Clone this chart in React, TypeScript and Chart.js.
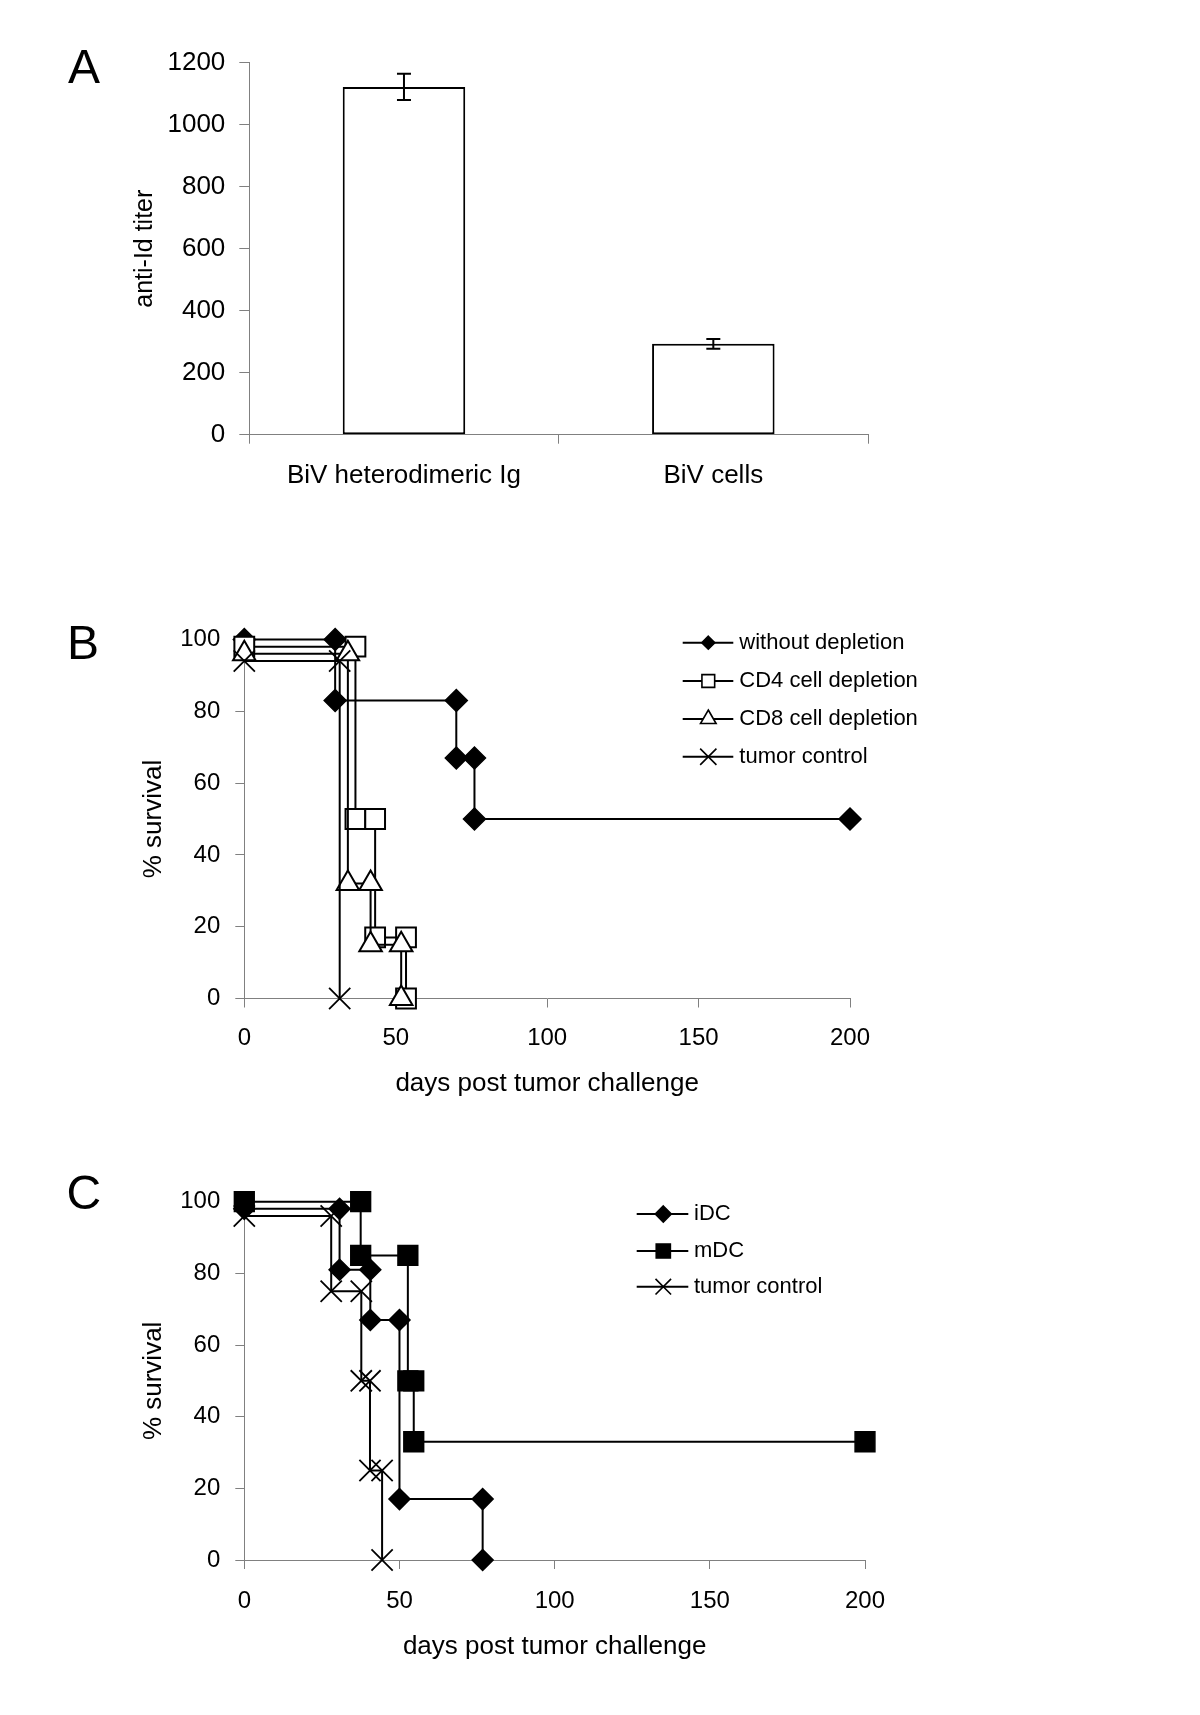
import React, { useEffect, useRef } from 'react';
import { Chart, registerables } from 'chart.js';

Chart.register(...registerables);

const FONT = '"Liberation Sans", Arial, Helvetica, sans-serif';
const AXIS_GRAY = '#808080';
const CANVAS_W = 1200;

// ---------- Panel A data ----------
const barCategories = ['BiV heterodimeric Ig', 'BiV cells'];
const barValues = [1122, 293];
const barErrors = [42, 16];

// ---------- Panel B data ----------
const bLabels = ['without depletion', 'CD4 cell depletion', 'CD8 cell depletion', 'tumor control'];
const bWithoutDays = [0, 30, 30, 70, 70, 76, 76, 200];
const bWithoutSurv = [100, 100, 83, 83, 67, 67, 50, 50];
const bCD4Days = [0, 36.7, 36.7, 43.2, 43.2, 53.4, 53.4];
const bCD4Surv = [98, 98, 50, 50, 17, 17, 0];
const bCD8Days = [0, 34.2, 34.2, 41.7, 41.7, 51.8, 51.8];
const bCD8Surv = [96, 96, 32, 32, 15, 15, 0];
const bTumorDays = [0, 31.5, 31.5];
const bTumorSurv = [94, 94, 0];

// ---------- Panel C data ----------
const cLabels = ['iDC', 'mDC', 'tumor control'];
const cIDCDays = [0, 30.7, 30.7, 40.6, 40.6, 50, 50, 76.8, 76.8];
const cIDCSurv = [98, 98, 81, 81, 67, 67, 17, 17, 0];
const cMDCDays = [0, 37.5, 37.5, 52.7, 52.7, 54.6, 54.6, 200];
const cMDCSurv = [100, 100, 85, 85, 50, 50, 33, 33];
const cTumorDays = [0, 28, 28, 37.7, 37.7, 40.5, 40.5, 44.4, 44.4];
const cTumorSurv = [96, 96, 75, 75, 50, 50, 25, 25, 0];

const zip = (xs: number[], ys: number[]) => xs.map((x, i) => ({ x, y: ys[i] }));

function drawMarker(ctx: CanvasRenderingContext2D, style: string, x: number, y: number, r: number, fill: string, lw: number) {
  ctx.save();
  ctx.lineWidth = lw;
  ctx.strokeStyle = '#000';
  ctx.fillStyle = fill;
  ctx.beginPath();
  if (style === 'rectRot') {
    ctx.moveTo(x, y - r);
    ctx.lineTo(x + r, y);
    ctx.lineTo(x, y + r);
    ctx.lineTo(x - r, y);
    ctx.closePath();
    ctx.fill();
    ctx.stroke();
  } else if (style === 'rect') {
    const s = r * Math.SQRT1_2;
    ctx.rect(x - s, y - s, 2 * s, 2 * s);
    ctx.fill();
    ctx.stroke();
  } else if (style === 'triangle') {
    let a = 0;
    ctx.moveTo(x + Math.sin(a) * r, y - Math.cos(a) * r);
    a += (2 * Math.PI) / 3;
    ctx.lineTo(x + Math.sin(a) * r, y - Math.cos(a) * r);
    a += (2 * Math.PI) / 3;
    ctx.lineTo(x + Math.sin(a) * r, y - Math.cos(a) * r);
    ctx.closePath();
    ctx.fill();
    ctx.stroke();
  } else if (style === 'crossRot') {
    const s = r * Math.SQRT1_2;
    ctx.moveTo(x - s, y - s);
    ctx.lineTo(x + s, y + s);
    ctx.moveTo(x - s, y + s);
    ctx.lineTo(x + s, y - s);
    ctx.stroke();
  }
  ctx.restore();
}

const lineLegendPlugin = {
  id: 'lineLegend',
  afterDraw(chart: any, _args: any, opts: any) {
    if (!opts || !opts.rows) return;
    const ctx = chart.ctx as CanvasRenderingContext2D;
    chart.data.datasets.forEach((ds: any, i: number) => {
      const y = opts.rows[i];
      ctx.save();
      ctx.strokeStyle = '#000';
      ctx.lineWidth = 2;
      ctx.beginPath();
      ctx.moveTo(opts.x0, y);
      ctx.lineTo(opts.x1, y);
      ctx.stroke();
      drawMarker(ctx, ds.pointStyle, opts.mx, y, opts.radii[i], ds.pointBackgroundColor, 1.6);
      ctx.fillStyle = '#000';
      ctx.font = `${opts.size}px ${FONT}`;
      ctx.textBaseline = 'middle';
      ctx.textAlign = 'left';
      ctx.fillText(ds.label, opts.tx, y);
      ctx.restore();
    });
  },
};

const panelLetterPlugin = {
  id: 'panelLetter',
  afterDraw(chart: any, _args: any, opts: any) {
    if (!opts || !opts.text) return;
    const ctx = chart.ctx as CanvasRenderingContext2D;
    ctx.save();
    ctx.fillStyle = '#000';
    ctx.font = `${opts.size}px ${FONT}`;
    ctx.textBaseline = 'alphabetic';
    ctx.textAlign = 'left';
    ctx.fillText(opts.text, opts.x, opts.y);
    ctx.restore();
  },
};

const errorBarPlugin = {
  id: 'errorBars',
  afterDatasetsDraw(chart: any, _args: any, opts: any) {
    if (!opts || !opts.errors) return;
    const ctx = chart.ctx as CanvasRenderingContext2D;
    const meta = chart.getDatasetMeta(0);
    const yScale = chart.scales.y;
    const values = chart.data.datasets[0].data as number[];
    meta.data.forEach((el: any, i: number) => {
      const v = values[i];
      const e = opts.errors[i];
      const yt = yScale.getPixelForValue(v + e);
      const yb = yScale.getPixelForValue(v - e);
      ctx.save();
      ctx.strokeStyle = '#000';
      ctx.lineWidth = 2;
      ctx.beginPath();
      ctx.moveTo(el.x, yt);
      ctx.lineTo(el.x, yb);
      ctx.moveTo(el.x - opts.cap, yt);
      ctx.lineTo(el.x + opts.cap, yt);
      ctx.moveTo(el.x - opts.cap, yb);
      ctx.lineTo(el.x + opts.cap, yb);
      ctx.stroke();
      ctx.restore();
    });
  },
};

function survivalConfig(p: {
  datasets: any[];
  leftWidth: number;
  rightPad: number;
  topPad: number;
  xAxisHeight: number;
  xTickPad: number;
  xTitlePad: number;
  yTitlePad: number;
  legend: any;
  letter: any;
}) {
  return {
    type: 'scatter',
    data: { datasets: p.datasets },
    plugins: [lineLegendPlugin, panelLetterPlugin],
    options: {
      responsive: false,
      maintainAspectRatio: false,
      devicePixelRatio: 1,
      animation: false,
      events: [],
      layout: { padding: { left: 0, right: p.rightPad, top: p.topPad, bottom: 0 } },
      plugins: {
        legend: { display: false },
        tooltip: { enabled: false },
        lineLegend: p.legend,
        panelLetter: p.letter,
      },
      scales: {
        x: {
          type: 'linear',
          min: 0,
          max: 200,
          afterFit: (s: any) => {
            s.height = p.xAxisHeight;
          },
          ticks: {
            stepSize: 50,
            color: '#000',
            font: { family: FONT, size: 24 },
            padding: p.xTickPad,
            maxRotation: 0,
            callback: (v: any) => String(v),
          },
          grid: { drawOnChartArea: false, drawTicks: true, tickLength: 9, color: AXIS_GRAY, lineWidth: 1 },
          border: { display: true, color: AXIS_GRAY, width: 1 },
          title: {
            display: true,
            text: 'days post tumor challenge',
            color: '#000',
            font: { family: FONT, size: 26 },
            padding: { top: 0, bottom: p.xTitlePad },
          },
        },
        y: {
          type: 'linear',
          min: 0,
          max: 100,
          afterFit: (s: any) => {
            s.width = p.leftWidth;
          },
          ticks: {
            stepSize: 20,
            color: '#000',
            font: { family: FONT, size: 24 },
            padding: 15,
            callback: (v: any) => String(v),
          },
          grid: { drawOnChartArea: false, drawTicks: true, tickLength: 9, color: AXIS_GRAY, lineWidth: 1 },
          border: { display: true, color: AXIS_GRAY, width: 1 },
          title: {
            display: true,
            text: '% survival',
            color: '#000',
            font: { family: FONT, size: 26 },
            padding: { top: p.yTitlePad, bottom: 0 },
          },
        },
      },
    },
  };
}

function seriesDataset(label: string, data: any[], style: string, fill: string, r: number, bw: number, order: number) {
  return {
    label,
    data,
    showLine: true,
    borderColor: '#000',
    borderWidth: 2,
    tension: 0,
    pointStyle: style,
    pointRadius: r,
    pointHoverRadius: r,
    pointBackgroundColor: fill,
    pointBorderColor: '#000',
    pointBorderWidth: bw,
    clip: false,
    order,
  };
}

export default function App() {
  const refA = useRef<HTMLCanvasElement>(null);
  const refB = useRef<HTMLCanvasElement>(null);
  const refC = useRef<HTMLCanvasElement>(null);

  useEffect(() => {
    const charts: Chart[] = [];

    // Panel A
    const cfgA: any = {
      type: 'bar',
      data: {
        labels: barCategories,
        datasets: [
          {
            data: barValues,
            backgroundColor: '#ffffff',
            borderColor: '#000000',
            borderWidth: 2,
            borderSkipped: false,
            barPercentage: 0.396,
            categoryPercentage: 1,
          },
        ],
      },
      plugins: [errorBarPlugin, panelLetterPlugin],
      options: {
        responsive: false,
        maintainAspectRatio: false,
        devicePixelRatio: 1,
        animation: false,
        events: [],
        layout: { padding: { left: 0, right: CANVAS_W - 868, top: 62.7, bottom: 0 } },
        plugins: {
          legend: { display: false },
          tooltip: { enabled: false },
          errorBars: { errors: barErrors, cap: 7 },
          panelLetter: { text: 'A', x: 68, y: 83, size: 48 },
        },
        scales: {
          x: {
            type: 'category',
            offset: true,
            afterFit: (s: any) => {
              s.height = 520 - 434.7;
            },
            ticks: { color: '#000', font: { family: FONT, size: 26 }, padding: 17, maxRotation: 0 },
            grid: { offset: true, drawOnChartArea: false, drawTicks: true, tickLength: 9, color: AXIS_GRAY },
            border: { display: true, color: AXIS_GRAY, width: 1 },
          },
          y: {
            type: 'linear',
            min: 0,
            max: 1200,
            afterFit: (s: any) => {
              s.width = 249.3;
            },
            ticks: {
              stepSize: 200,
              color: '#000',
              font: { family: FONT, size: 26 },
              padding: 14,
              callback: (v: any) => String(v),
            },
            grid: { drawOnChartArea: false, drawTicks: true, tickLength: 10, color: AXIS_GRAY },
            border: { display: true, color: AXIS_GRAY, width: 1 },
            title: {
              display: true,
              text: 'anti-Id titer',
              color: '#000',
              font: { family: FONT, size: 25 },
              padding: { top: 130, bottom: 0 },
            },
          },
        },
      },
    };
    if (refA.current) charts.push(new Chart(refA.current, cfgA));

    // Panel B
    const cfgB: any = survivalConfig({
      datasets: [
        seriesDataset(bLabels[0], zip(bWithoutDays, bWithoutSurv), 'rectRot', '#000000', 11, 1.5, 4),
        seriesDataset(bLabels[1], zip(bCD4Days, bCD4Surv), 'rect', '#ffffff', 14, 2, 3),
        seriesDataset(bLabels[2], zip(bCD8Days, bCD8Surv), 'triangle', '#ffffff', 13, 2, 2),
        seriesDataset(bLabels[3], zip(bTumorDays, bTumorSurv), 'crossRot', '#ffffff', 15, 1.8, 1),
      ],
      leftWidth: 244.3,
      rightPad: CANVAS_W - 850,
      topPad: 639.5 - 560,
      xAxisHeight: 560 - (998.5 - 560),
      xTickPad: 16,
      xTitlePad: 20.4,
      yTitlePad: 138.4,
      legend: {
        rows: [82.7, 121, 159, 196.7],
        x0: 682.7,
        x1: 733.3,
        mx: 708.3,
        tx: 739.3,
        size: 22,
        radii: [6.5, 9, 9, 11.5],
      },
      letter: { text: 'B', x: 67, y: 99, size: 48 },
    });
    if (refB.current) charts.push(new Chart(refB.current, cfgB));

    // Panel C
    const cfgC: any = survivalConfig({
      datasets: [
        seriesDataset(cLabels[0], zip(cIDCDays, cIDCSurv), 'rectRot', '#000000', 10.5, 1.5, 3),
        seriesDataset(cLabels[1], zip(cMDCDays, cMDCSurv), 'rect', '#000000', 14, 1.5, 2),
        seriesDataset(cLabels[2], zip(cTumorDays, cTumorSurv), 'crossRot', '#ffffff', 15, 1.8, 1),
      ],
      leftWidth: 244.3,
      rightPad: CANVAS_W - 865,
      topPad: 1201.7 - 1150,
      xAxisHeight: 565 - (1560 - 1150),
      xTickPad: 17.6,
      xTitlePad: 52.4,
      yTitlePad: 138.4,
      legend: {
        rows: [64, 101, 136.7],
        x0: 636.7,
        x1: 688.3,
        mx: 663.3,
        tx: 694,
        size: 22,
        radii: [8, 10, 11],
      },
      letter: { text: 'C', x: 66.6, y: 59, size: 48 },
    });
    if (refC.current) charts.push(new Chart(refC.current, cfgC));

    return () => {
      charts.forEach((c) => c.destroy());
    };
  }, []);

  return (
    <div style={{ position: 'absolute', left: 0, top: 0, width: 1200, height: 1715, background: '#ffffff' }}>
      <canvas ref={refA} width={CANVAS_W} height={520} style={{ position: 'absolute', left: 0, top: 0, width: CANVAS_W, height: 520 }} />
      <canvas ref={refB} width={CANVAS_W} height={560} style={{ position: 'absolute', left: 0, top: 560, width: CANVAS_W, height: 560 }} />
      <canvas ref={refC} width={CANVAS_W} height={565} style={{ position: 'absolute', left: 0, top: 1150, width: CANVAS_W, height: 565 }} />
    </div>
  );
}
